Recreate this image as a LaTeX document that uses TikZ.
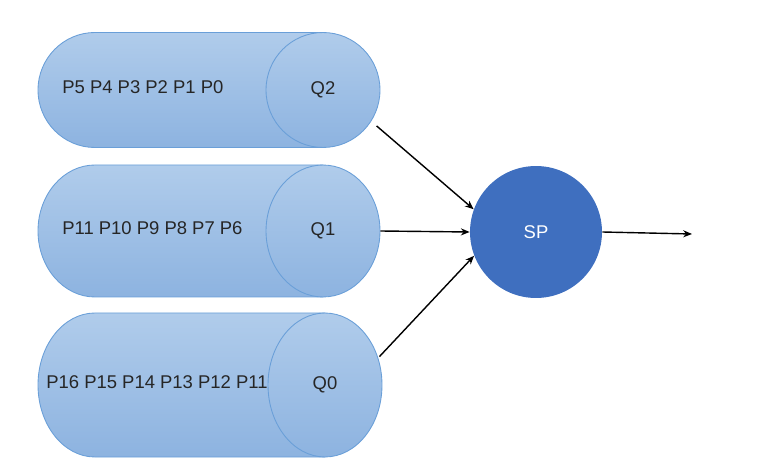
\documentclass[tikz,border=0pt]{standalone}
\usepackage{fontspec}
\setmainfont{Liberation Sans}
\usetikzlibrary{arrows.meta,shapes.geometric}
\definecolor{qtop}{HTML}{B0CCEB}
\definecolor{qbot}{HTML}{8DB3E0}
\definecolor{qline}{HTML}{6A9FD8}
\definecolor{spfill}{HTML}{3F6FBF}

\begin{document}
\begin{tikzpicture}[x=0.02cm,y=0.02cm,>=Stealth,
  qbody/.style={draw=qline, line width=0.5pt, top color=qtop, bottom color=qbot},
  qend/.style={ellipse, qbody, inner sep=0pt, minimum width=2.28cm, font=\fontsize{10.5}{12}\selectfont, text=black!85},
  flow/.style={->, line width=0.8pt, arrows={-Stealth[length=5pt,width=4pt]}}]
  \useasboundingbox (0,0) rectangle (760,-472);
  % three queues: centre y / half height / end centre x / number / tasks / text x
  \foreach \cy/\ry/\xc/\qn/\ptxt/\px in {90/57.5/323/2/{P5 P4 P3 P2 P1 P0}/62,
      231/66/323/1/{P11 P10 P9 P8 P7 P6}/62, 385/72/325/0/{P16 P15 P14 P13 P12 P11}/46} {
    \draw[qbody] (\xc,-\cy+\ry) -- (95,-\cy+\ry)
      arc[start angle=90, end angle=270, x radius=57, y radius=\ry] -- (\xc,-\cy-\ry) -- cycle;
    \node[qend, minimum height=\ry*0.04cm] (q\qn) at (\xc,-\cy) {Q\qn};
    \node[anchor=west, inner sep=0pt, font=\fontsize{10.5}{12}\selectfont, text=black!85] (p\qn) at (\px,-\cy+3) {\ptxt};
  }
  \node[circle, fill=spfill, minimum size=2.64cm, inner sep=0pt, text=white,
    font=\fontsize{10.5}{12}\selectfont] (sp) at (536,-232) {SP};
  \coordinate (out) at (692,-234);
  \draw[flow, shorten <=4pt] (q2.-33) -- (sp.160);
  \draw[flow] (q1.east) -- (sp.180);
  \draw[flow, shorten <=1pt] (q0.27) -- (sp.201);
  \draw[flow] (sp.east) -- (out);
\end{tikzpicture}
\end{document}
